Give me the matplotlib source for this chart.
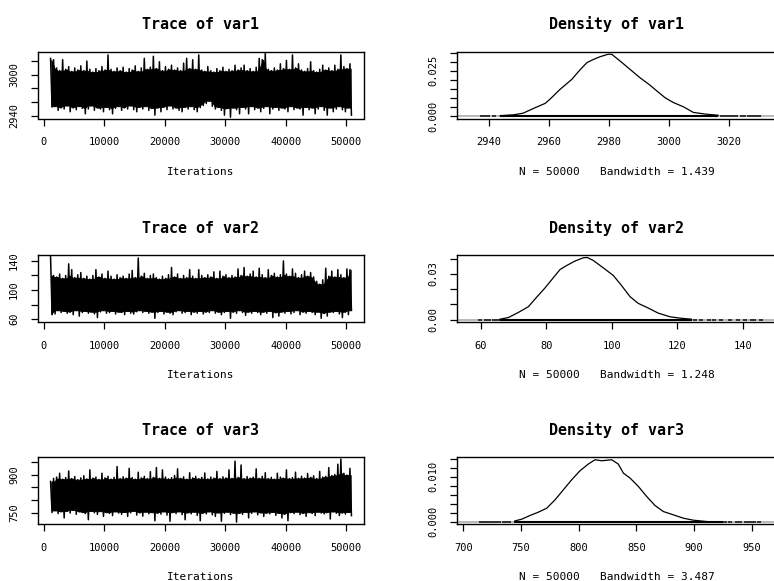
import numpy as np
import matplotlib
matplotlib.use('Agg')
import matplotlib.pyplot as plt

plt.rcParams['font.family'] = ['DejaVu Sans Mono']

names = ['var1', 'var2', 'var3']
n_iter = 50000
bandwidths = ['1.439', '1.248', '3.487']

# thinned chains: highest / lowest draw in each block of 500 iterations
block_start = np.arange(1001, 51001, 500)

trace1_hi = [3024, 3022, 3010, 3006, 3022, 3008, 3012, 3005, 3010, 3007,
             3013, 3006, 3020, 3008, 3004, 3009, 3006, 3012, 3007, 3029,
             3008, 3005, 3010, 3006, 3011, 3004, 3009, 3007, 3013, 3005,
             3010, 3024, 3008, 3011, 3027, 3009, 3019, 3006, 3012, 3008,
             3014, 3007, 3010, 3006, 3017, 3024, 3009, 3022, 3008, 3029,
             3007, 3005, 3012, 3006, 3004, 3009, 3006, 3011, 3005, 3008,
             3006, 3014, 3007, 3010, 3014, 3006, 3009, 3005, 3011, 3024,
             3022, 3031, 3008, 3006, 3010, 3007, 3016, 3009, 3021, 3008,
             3029, 3010, 3016, 3007, 3005, 3009, 3019, 3006, 3004, 3008,
             3014, 3007, 3010, 3006, 3014, 3008, 3029, 3012, 3009, 3016]
trace1_lo = [2953, 2954, 2948, 2952, 2950, 2955, 2946, 2952, 2949, 2954,
             2951, 2943, 2950, 2955, 2948, 2952, 2950, 2946, 2953, 2949,
             2943, 2951, 2954, 2948, 2952, 2950, 2955, 2949, 2946, 2953,
             2950, 2954, 2948, 2951, 2941, 2952, 2946, 2953, 2949, 2955,
             2950, 2952, 2948, 2946, 2953, 2950, 2954, 2949, 2946, 2952,
             2955, 2958, 2962, 2954, 2950, 2953, 2948, 2941, 2951, 2938,
             2952, 2949, 2943, 2953, 2950, 2943, 2954, 2949, 2952, 2946,
             2951, 2954, 2943, 2950, 2953, 2948, 2952, 2950, 2946, 2954,
             2949, 2952, 2950, 2941, 2953, 2949, 2952, 2943, 2950, 2954,
             2948, 2941, 2952, 2946, 2950, 2954, 2949, 2946, 2952, 2941]

trace2_hi = [146, 120, 118, 122, 116, 120, 136, 128, 117, 121,
             124, 116, 119, 115, 120, 128, 118, 122, 116, 126,
             119, 115, 121, 117, 119, 116, 122, 127, 117, 144,
             119, 123, 116, 120, 122, 117, 115, 119, 116, 121,
             131, 118, 122, 116, 120, 117, 128, 119, 116, 128,
             120, 117, 121, 118, 125, 116, 126, 119, 121, 117,
             120, 118, 129, 120, 131, 119, 122, 126, 118, 130,
             121, 117, 128, 120, 123, 118, 121, 140, 122, 119,
             129, 123, 117, 121, 126, 119, 124, 118, 112, 108,
             114, 130, 119, 126, 118, 128, 121, 117, 129, 128]
trace2_lo = [66, 67, 72, 69, 71, 68, 70, 66, 72, 64,
             69, 71, 68, 70, 67, 62, 70, 72, 68, 69,
             71, 67, 70, 69, 66, 71, 68, 67, 70, 72,
             69, 71, 68, 70, 61, 69, 71, 67, 70, 68,
             66, 70, 72, 68, 69, 71, 66, 70, 68, 71,
             67, 70, 69, 72, 68, 70, 66, 69, 71, 61,
             70, 68, 72, 69, 65, 70, 68, 71, 69, 66,
             70, 68, 71, 62, 69, 64, 70, 68, 71, 67,
             69, 72, 66, 70, 68, 71, 69, 66, 70, 61,
             68, 64, 70, 69, 71, 67, 62, 70, 66, 72]

trace3_hi = [873, 885, 890, 905, 882, 888, 914, 884, 892, 880,
             887, 895, 883, 918, 886, 890, 881, 905, 887, 893,
             882, 889, 931, 884, 891, 886, 924, 888, 882, 909,
             887, 893, 884, 911, 889, 927, 885, 918, 890, 883,
             888, 896, 922, 885, 891, 882, 907, 887, 893, 884,
             889, 906, 883, 890, 886, 912, 884, 891, 887, 918,
             885, 952, 889, 937, 884, 892, 886, 890, 922, 885,
             893, 907, 884, 889, 882, 905, 890, 886, 918, 884,
             888, 909, 885, 893, 886, 904, 889, 895, 884, 912,
             890, 893, 927, 896, 900, 940, 960, 905, 898, 924]
trace3_lo = [752, 760, 748, 756, 731, 758, 750, 762, 745, 756,
             752, 748, 724, 758, 751, 745, 757, 737, 753, 749,
             740, 756, 750, 745, 754, 737, 751, 758, 742, 752,
             738, 755, 747, 753, 720, 751, 746, 756, 742, 718,
             753, 748, 756, 744, 724, 752, 747, 755, 741, 720,
             751, 747, 756, 743, 737, 752, 718, 749, 755, 744,
             751, 715, 750, 745, 754, 731, 749, 756, 743, 752,
             737, 751, 747, 754, 741, 750, 731, 747, 720, 753,
             748, 755, 744, 750, 737, 753, 748, 740, 755, 750,
             747, 753, 727, 756, 749, 740, 752, 746, 754, 740]

# kernel density estimates
dens1_x = [2943.7, 2948.3, 2951.4, 2954.8, 2958.7, 2960.3, 2963.7, 2967.6, 2970.3,
           2972.6, 2974.8, 2977.0, 2979.8, 2980.9, 2983.7, 2987.0, 2990.3, 2993.7,
           2995.9, 2998.7, 3001.4, 3004.8, 3008.1, 3012.0, 3016.4]
dens1_y = [0.0002, 0.0007, 0.0016, 0.0042, 0.0070, 0.0093, 0.0148, 0.0203, 0.0255,
           0.0295, 0.0313, 0.0328, 0.0342, 0.0341, 0.0304, 0.0258, 0.0212, 0.0170,
           0.0139, 0.0101, 0.0075, 0.0051, 0.0020, 0.0011, 0.0004]

dens2_x = [65.8, 68.4, 71.4, 74.5, 77.0, 79.6, 82.1, 84.2, 86.2, 88.7, 91.3, 92.5,
           94.3, 97.4, 100.5, 103.0, 105.6, 108.1, 111.2, 114.2, 117.8, 120.9, 124.4]
dens2_y = [0.0002, 0.0013, 0.0046, 0.0084, 0.0146, 0.0208, 0.0274, 0.0329, 0.0355,
           0.0384, 0.0406, 0.0408, 0.0389, 0.0340, 0.0289, 0.0223, 0.0150, 0.0106,
           0.0075, 0.0042, 0.0018, 0.0009, 0.0002]

dens3_x = [744.8, 750.6, 757.8, 765.0, 772.3, 779.5, 786.7, 793.9, 801.1, 808.3,
           814.1, 819.9, 828.6, 834.3, 838.7, 844.5, 851.7, 858.9, 866.1, 873.3,
           882.0, 890.7, 899.3, 910.9]
dens3_y = [0.00015, 0.00052, 0.00134, 0.00208, 0.00297, 0.00483, 0.00706, 0.00929,
           0.01130, 0.01279, 0.01375, 0.01353, 0.01375, 0.01279, 0.01078, 0.00967,
           0.00781, 0.00558, 0.00357, 0.00223, 0.00149, 0.00074, 0.00030, 0.0]

# observed values: dense stretch plus scattered tail draws
rug1_dense = (2943.7, 3016.4)
rug1_tail = [2937.6, 2938.2, 2939.0, 2939.7, 2941.5, 3017.5, 3018.6, 3020.0, 3021.4,
             3022.3, 3024.2, 3025.0, 3026.6, 3027.8, 3029.0, 3030.1]
rug2_dense = (65.8, 124.4)
rug2_tail = [59.7, 61.5, 62.4, 64.0, 65.2, 125.5, 127.3, 129.7, 131.2, 133.5,
             136.1, 138.5, 140.8, 142.9, 143.6, 145.6]
rug3_dense = (744.0, 925.0)
rug3_tail = [715, 717.5, 720, 722, 724, 727.5, 731, 735, 737, 740, 927, 931, 937,
             940, 945, 948, 950, 952, 956]

traces = [(trace1_hi, trace1_lo), (trace2_hi, trace2_lo), (trace3_hi, trace3_lo)]
dens = [(dens1_x, dens1_y), (dens2_x, dens2_y), (dens3_x, dens3_y)]
rugs = [(rug1_dense, rug1_tail), (rug2_dense, rug2_tail), (rug3_dense, rug3_tail)]

trace_ylim = [(2936.1, 3033.7), (55.9, 148.2), (707.4, 967.0)]
trace_yticks = [[2940, 2960, 2980, 3000, 3020], [60, 80, 100, 120, 140],
                [750, 800, 850, 900, 950]]
trace_ylabels = [['2940', '', '', '3000', ''], ['60', '', '100', '', '140'],
                 ['750', '', '', '900', '']]
dens_xlim = [(2929.2, 3036.0), (52.6, 150.5), (694.3, 971.8)]
dens_xticks = [[2940, 2960, 2980, 3000, 3020], [60, 80, 100, 120, 140],
               [700, 750, 800, 850, 900, 950]]
dens_yticks = [np.arange(0, 0.0351, 0.005), np.arange(0, 0.0401, 0.01),
               np.arange(0, 0.0141, 0.002)]
dens_ylabels = [['0.000', '', '', '', '', '0.025', '', ''],
                ['0.00', '', '', '0.03', ''],
                ['0.000', '', '', '', '', '0.010', '', '']]

W, H = 774, 581
fig = plt.figure(figsize=(W / 100, H / 100), dpi=100)


def px_axes(l, t, r, b):
    return fig.add_axes([l / W, 1 - b / H, (r - l) / W, (b - t) / H])


def r_style(ax):
    for s in ax.spines.values():
        s.set_linewidth(1.0)
        s.set_color('black')
    ax.tick_params(length=5, width=0.9, pad=8.5, labelsize=7.5, direction='out')


def core(v, keep):
    # band that most draws pass through: neighbour-wise min of highs / max of lows
    v = np.asarray(v, dtype=float)
    p = np.pad(v, 1, mode='edge')
    return keep(keep(p[:-2], p[1:-1]), p[2:])


rows = [(51.7, 118.5), (255.0, 322.0), (457.3, 524.0)]

for i, name in enumerate(names):
    top, bot = rows[i]

    # trace panel
    ax = px_axes(37.7, top, 364.3, bot)
    hi, lo = traces[i]
    mid = block_start + 250
    ax.fill_between(mid, core(lo, np.maximum), core(hi, np.minimum),
                    color='black', lw=0.6)
    xs = np.column_stack([block_start + 125, block_start + 375]).ravel()
    ys = np.column_stack([hi, lo]).ravel()
    ax.plot(xs, ys, color='black', lw=1.1)
    ax.set_xlim(-999, 53000)
    ax.set_ylim(*trace_ylim[i])
    ax.set_xticks([0, 10000, 20000, 30000, 40000, 50000])
    ax.set_yticks(trace_yticks[i], trace_ylabels[i], rotation=90, va='center')
    r_style(ax)
    ax.set_title(f'Trace of {name}', fontsize=10.8, fontweight='bold', pad=16)
    ax.set_xlabel('Iterations', fontsize=8)
    ax.xaxis.set_label_coords(0.5, -0.72)

    # density panel
    ax = px_axes(456.7, top, 777.0, bot)
    dx, dy = dens[i]
    peak = max(dy)
    (d_lo, d_hi), tail = rugs[i]
    ax.axhline(0, color='#b8b8b8', lw=1.4, zorder=1)
    ax.hlines(0, d_lo, d_hi, color='black', lw=1.5, zorder=2)
    ax.plot(tail, np.zeros(len(tail)), ls='none', marker='_', ms=2.5, mew=1.4,
            color='#333333', zorder=2)
    ax.plot(dx, dy, color='black', lw=0.9, zorder=3)
    ax.set_xlim(*dens_xlim[i])
    ax.set_ylim(-0.04 * peak, 1.04 * peak)
    ax.set_xticks(dens_xticks[i])
    ax.set_yticks(dens_yticks[i], dens_ylabels[i], rotation=90, va='center')
    r_style(ax)
    ax.set_title(f'Density of {name}', fontsize=10.8, fontweight='bold', pad=16)
    ax.set_xlabel(f'N = {n_iter}   Bandwidth = {bandwidths[i]}', fontsize=8)
    ax.xaxis.set_label_coords(0.5, -0.72)

fig.savefig('out.png', dpi=100)
